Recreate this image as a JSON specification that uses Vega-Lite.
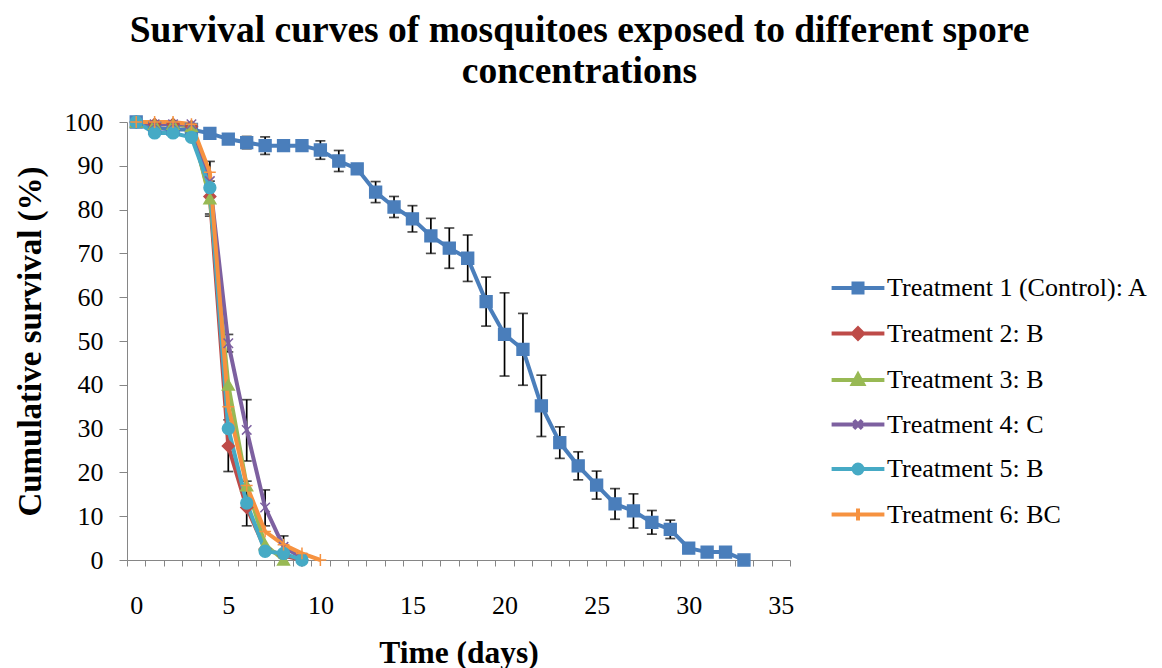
{
  "$schema": "https://vega.github.io/schema/vega-lite/v6.json",
  "width": 663,
  "height": 438,
  "autosize": {"type": "none"},
  "padding": {"left": 127, "top": 122, "right": 372, "bottom": 108},
  "background": "white",
  "config": {
    "view": {"stroke": null},
    "font": "Liberation Serif"
  },
  "title": {
    "text": ["Survival curves of mosquitoes exposed to different spore", "concentrations"],
    "font": "Liberation Serif",
    "fontSize": 37.5,
    "fontWeight": "bold",
    "color": "black",
    "anchor": "middle",
    "dx": 121,
    "offset": 19,
    "lineHeight": 41
  },
  "datasets": {
    "surv": [
      {"series": "Treatment 1 (Control): A", "day": 0, "value": 100},
      {"series": "Treatment 1 (Control): A", "day": 1, "value": 98.6},
      {"series": "Treatment 1 (Control): A", "day": 2, "value": 98.3},
      {"series": "Treatment 1 (Control): A", "day": 3, "value": 98.3},
      {"series": "Treatment 1 (Control): A", "day": 4, "value": 97.4},
      {"series": "Treatment 1 (Control): A", "day": 5, "value": 96.1},
      {"series": "Treatment 1 (Control): A", "day": 6, "value": 95.3},
      {"series": "Treatment 1 (Control): A", "day": 7, "value": 94.6},
      {"series": "Treatment 1 (Control): A", "day": 8, "value": 94.6},
      {"series": "Treatment 1 (Control): A", "day": 9, "value": 94.6},
      {"series": "Treatment 1 (Control): A", "day": 10, "value": 93.6},
      {"series": "Treatment 1 (Control): A", "day": 11, "value": 91.1},
      {"series": "Treatment 1 (Control): A", "day": 12, "value": 89.3},
      {"series": "Treatment 1 (Control): A", "day": 13, "value": 84.0},
      {"series": "Treatment 1 (Control): A", "day": 14, "value": 80.6},
      {"series": "Treatment 1 (Control): A", "day": 15, "value": 77.9},
      {"series": "Treatment 1 (Control): A", "day": 16, "value": 74.0},
      {"series": "Treatment 1 (Control): A", "day": 17, "value": 71.2},
      {"series": "Treatment 1 (Control): A", "day": 18, "value": 68.9},
      {"series": "Treatment 1 (Control): A", "day": 19, "value": 59.0},
      {"series": "Treatment 1 (Control): A", "day": 20, "value": 51.5},
      {"series": "Treatment 1 (Control): A", "day": 21, "value": 48.1},
      {"series": "Treatment 1 (Control): A", "day": 22, "value": 35.2},
      {"series": "Treatment 1 (Control): A", "day": 23, "value": 26.8},
      {"series": "Treatment 1 (Control): A", "day": 24, "value": 21.5},
      {"series": "Treatment 1 (Control): A", "day": 25, "value": 17.1},
      {"series": "Treatment 1 (Control): A", "day": 26, "value": 12.8},
      {"series": "Treatment 1 (Control): A", "day": 27, "value": 11.2},
      {"series": "Treatment 1 (Control): A", "day": 28, "value": 8.6},
      {"series": "Treatment 1 (Control): A", "day": 29, "value": 7.0},
      {"series": "Treatment 1 (Control): A", "day": 30, "value": 2.7},
      {"series": "Treatment 1 (Control): A", "day": 31, "value": 1.8},
      {"series": "Treatment 1 (Control): A", "day": 32, "value": 1.8},
      {"series": "Treatment 1 (Control): A", "day": 33, "value": 0},
      {"series": "Treatment 2: B", "day": 0, "value": 100},
      {"series": "Treatment 2: B", "day": 1, "value": 99.5},
      {"series": "Treatment 2: B", "day": 2, "value": 99.5},
      {"series": "Treatment 2: B", "day": 3, "value": 99},
      {"series": "Treatment 2: B", "day": 4, "value": 83},
      {"series": "Treatment 2: B", "day": 5, "value": 26},
      {"series": "Treatment 2: B", "day": 6, "value": 12},
      {"series": "Treatment 2: B", "day": 7, "value": 2.5},
      {"series": "Treatment 2: B", "day": 8, "value": 1},
      {"series": "Treatment 2: B", "day": 9, "value": 0},
      {"series": "Treatment 3: B", "day": 0, "value": 100},
      {"series": "Treatment 3: B", "day": 1, "value": 99.5},
      {"series": "Treatment 3: B", "day": 2, "value": 99.5},
      {"series": "Treatment 3: B", "day": 3, "value": 99},
      {"series": "Treatment 3: B", "day": 4, "value": 82.5},
      {"series": "Treatment 3: B", "day": 5, "value": 40},
      {"series": "Treatment 3: B", "day": 6, "value": 17},
      {"series": "Treatment 3: B", "day": 7, "value": 3.5},
      {"series": "Treatment 3: B", "day": 8, "value": 0},
      {"series": "Treatment 4: C", "day": 0, "value": 100},
      {"series": "Treatment 4: C", "day": 1, "value": 99.5},
      {"series": "Treatment 4: C", "day": 2, "value": 99.5},
      {"series": "Treatment 4: C", "day": 3, "value": 99.5},
      {"series": "Treatment 4: C", "day": 4, "value": 86.5},
      {"series": "Treatment 4: C", "day": 5, "value": 49.5},
      {"series": "Treatment 4: C", "day": 6, "value": 29.7},
      {"series": "Treatment 4: C", "day": 7, "value": 12},
      {"series": "Treatment 4: C", "day": 8, "value": 3},
      {"series": "Treatment 4: C", "day": 9, "value": 0.5},
      {"series": "Treatment 5: B", "day": 0, "value": 100},
      {"series": "Treatment 5: B", "day": 1, "value": 97.5},
      {"series": "Treatment 5: B", "day": 2, "value": 97.5},
      {"series": "Treatment 5: B", "day": 3, "value": 96.5},
      {"series": "Treatment 5: B", "day": 4, "value": 85},
      {"series": "Treatment 5: B", "day": 5, "value": 30},
      {"series": "Treatment 5: B", "day": 6, "value": 13},
      {"series": "Treatment 5: B", "day": 7, "value": 2},
      {"series": "Treatment 5: B", "day": 8, "value": 1.5},
      {"series": "Treatment 5: B", "day": 9, "value": 0},
      {"series": "Treatment 6: BC", "day": 0, "value": 100},
      {"series": "Treatment 6: BC", "day": 1, "value": 100},
      {"series": "Treatment 6: BC", "day": 2, "value": 100},
      {"series": "Treatment 6: BC", "day": 3, "value": 99.5},
      {"series": "Treatment 6: BC", "day": 4, "value": 88.5},
      {"series": "Treatment 6: BC", "day": 5, "value": 35},
      {"series": "Treatment 6: BC", "day": 6, "value": 17},
      {"series": "Treatment 6: BC", "day": 7, "value": 6.5},
      {"series": "Treatment 6: BC", "day": 8, "value": 3.5},
      {"series": "Treatment 6: BC", "day": 9, "value": 1.5},
      {"series": "Treatment 6: BC", "day": 10, "value": 0}
    ],
    "err": [
      {"series": "Treatment 1 (Control): A", "day": 4, "lo": 96.4, "hi": 98.4},
      {"series": "Treatment 1 (Control): A", "day": 5, "lo": 95.0, "hi": 97.2},
      {"series": "Treatment 1 (Control): A", "day": 6, "lo": 93.9, "hi": 96.7},
      {"series": "Treatment 1 (Control): A", "day": 7, "lo": 92.6, "hi": 96.6},
      {"series": "Treatment 1 (Control): A", "day": 8, "lo": 93.4, "hi": 95.8},
      {"series": "Treatment 1 (Control): A", "day": 9, "lo": 93.4, "hi": 95.8},
      {"series": "Treatment 1 (Control): A", "day": 10, "lo": 91.5, "hi": 95.7},
      {"series": "Treatment 1 (Control): A", "day": 11, "lo": 88.7, "hi": 93.5},
      {"series": "Treatment 1 (Control): A", "day": 13, "lo": 81.6, "hi": 86.4},
      {"series": "Treatment 1 (Control): A", "day": 14, "lo": 78.2, "hi": 83.0},
      {"series": "Treatment 1 (Control): A", "day": 15, "lo": 74.9, "hi": 80.9},
      {"series": "Treatment 1 (Control): A", "day": 16, "lo": 70.0, "hi": 78.0},
      {"series": "Treatment 1 (Control): A", "day": 17, "lo": 66.6, "hi": 75.8},
      {"series": "Treatment 1 (Control): A", "day": 18, "lo": 63.6, "hi": 74.2},
      {"series": "Treatment 1 (Control): A", "day": 19, "lo": 53.4, "hi": 64.6},
      {"series": "Treatment 1 (Control): A", "day": 20, "lo": 42.0, "hi": 61.0},
      {"series": "Treatment 1 (Control): A", "day": 21, "lo": 39.9, "hi": 56.3},
      {"series": "Treatment 1 (Control): A", "day": 22, "lo": 28.2, "hi": 42.2},
      {"series": "Treatment 1 (Control): A", "day": 23, "lo": 23.2, "hi": 30.4},
      {"series": "Treatment 1 (Control): A", "day": 24, "lo": 18.3, "hi": 24.7},
      {"series": "Treatment 1 (Control): A", "day": 25, "lo": 13.9, "hi": 20.3},
      {"series": "Treatment 1 (Control): A", "day": 26, "lo": 9.3, "hi": 16.3},
      {"series": "Treatment 1 (Control): A", "day": 27, "lo": 7.3, "hi": 15.1},
      {"series": "Treatment 1 (Control): A", "day": 28, "lo": 5.9, "hi": 11.3},
      {"series": "Treatment 1 (Control): A", "day": 29, "lo": 4.9, "hi": 9.1},
      {"series": "Treatment 2: B", "day": 5, "lo": 20.2, "hi": 32.0},
      {"series": "Treatment 3: B", "day": 4, "lo": 78.5, "hi": 86.5},
      {"series": "Treatment 4: C", "day": 5, "lo": 47.5, "hi": 51.5},
      {"series": "Treatment 4: C", "day": 6, "lo": 22.6, "hi": 36.6},
      {"series": "Treatment 4: C", "day": 7, "lo": 7.8, "hi": 16.0},
      {"series": "Treatment 4: C", "day": 8, "lo": 0.5, "hi": 5.5},
      {"series": "Treatment 5: B", "day": 4, "lo": 79.0, "hi": 91.0},
      {"series": "Treatment 5: B", "day": 6, "lo": 7.8, "hi": 18.0}
    ]
  },
  "encoding": {
    "x": {
      "field": "day", "type": "ordinal", "title": "Time (days)",
      "scale": {
        "type": "band",
        "domain": [0, 1, 2, 3, 4, 5, 6, 7, 8, 9, 10, 11, 12, 13, 14, 15, 16, 17, 18, 19, 20, 21, 22, 23, 24, 25, 26, 27, 28, 29, 30, 31, 32, 33, 34, 35],
        "paddingInner": 0,
        "paddingOuter": 0
      },
      "axis": {
        "tickBand": "extent",
        "labelExpr": "(datum.value == 0 || datum.value == 5 || datum.value == 10 || datum.value == 15 || datum.value == 20 || datum.value == 25 || datum.value == 30 || datum.value == 35) ? datum.label : ''",
        "labelAngle": 0,
        "grid": false,
        "domainColor": "#868686",
        "tickColor": "#868686",
        "tickSize": 6,
        "labelFont": "Liberation Serif",
        "labelFontSize": 26,
        "labelColor": "black",
        "labelPadding": 26,
        "labelOverlap": false,
        "labelBound": false,
        "labelFlush": false,
        "titleFont": "Liberation Serif",
        "titleFontSize": 31.5,
        "titleFontWeight": "bold",
        "titleColor": "black",
        "titlePadding": 19
      }
    }
  },
  "layer": [
    {
      "data": {"name": "err"},
      "mark": {"type": "errorbar", "ticks": true, "color": "black", "thickness": 1.7, "size": 10},
      "encoding": {
        "y": {
          "field": "lo", "type": "quantitative", "title": "Cumulative survival (%)",
          "scale": {"domain": [0, 100], "nice": false}
        },
        "y2": {"field": "hi"}
      }
    },
    {
      "data": {"name": "surv"},
      "mark": {"type": "line", "strokeWidth": 4},
      "encoding": {
        "y": {
          "field": "value", "type": "quantitative", "title": "Cumulative survival (%)",
          "scale": {"domain": [0, 100], "nice": false},
          "axis": {
            "values": [0, 10, 20, 30, 40, 50, 60, 70, 80, 90, 100],
            "grid": false,
            "domainColor": "#868686",
            "tickColor": "#868686",
            "tickSize": 8,
            "labelFont": "Liberation Serif",
            "labelFontSize": 26,
            "labelColor": "black",
            "labelPadding": 16,
            "labelBound": false,
            "labelFlush": false,
            "labelOverlap": false,
            "titleFont": "Liberation Serif",
            "titleFontSize": 33,
            "titleFontWeight": "bold",
            "titleColor": "black",
            "titlePadding": 17
          }
        },
        "color": {
          "field": "series", "type": "nominal",
          "scale": {
            "domain": ["Treatment 1 (Control): A", "Treatment 2: B", "Treatment 3: B", "Treatment 4: C", "Treatment 5: B", "Treatment 6: BC"],
            "range": ["#4A7EBB", "#BE4B48", "#98B954", "#7D60A0", "#46AAC5", "#F69240"]
          },
          "legend": {
            "orient": "none",
            "legendX": 718,
            "legendY": 153,
            "title": null,
            "labelFont": "Liberation Serif",
            "labelFontSize": 26,
            "labelColor": "black",
            "labelLimit": 400,
            "symbolSize": 144,
            "symbolStrokeWidth": 4,
            "labelOffset": 16,
            "rowPadding": 18.5,
            "encode": {
              "symbols": {
                "update": {
                  "shape": {"signal": "datum.value === 'Treatment 1 (Control): A' ? 'M-4.4,0L4.4,0M-0.75,-0.75L0.75,-0.75L0.75,0.75L-0.75,0.75Z' : datum.value === 'Treatment 2: B' ? 'M-4.4,0L4.4,0M0,-0.85L0.85,0L0,0.85L-0.85,0Z' : datum.value === 'Treatment 3: B' ? 'M-4.4,0L4.4,0M0,-0.9L0.85,0.65L-0.85,0.65Z' : datum.value === 'Treatment 4: C' ? 'M-4.4,0L4.4,0M-0.7,-0.7L0.7,0.7M-0.7,0.7L0.7,-0.7' : datum.value === 'Treatment 5: B' ? 'M-4.4,0L4.4,0M0.75,0A0.75,0.75,0,1,1,-0.75,0A0.75,0.75,0,1,1,0.75,0Z' : 'M-4.4,0L4.4,0M0,-1L0,1'"},
                  "fill": {"signal": "datum.value === 'Treatment 1 (Control): A' ? '#4A7EBB' : datum.value === 'Treatment 2: B' ? '#BE4B48' : datum.value === 'Treatment 3: B' ? '#98B954' : datum.value === 'Treatment 4: C' ? '#7D60A0' : datum.value === 'Treatment 5: B' ? '#46AAC5' : '#F69240'"}
                }
              }
            }
          }
        }
      }
    },
    {
      "data": {"name": "surv"},
      "mark": {"type": "point", "filled": true, "size": 140, "strokeWidth": 1.5, "opacity": 1},
      "encoding": {
        "y": {"field": "value", "type": "quantitative", "title": "Cumulative survival (%)"},
        "fill": {
          "field": "series", "type": "nominal", "legend": null,
          "scale": {
            "domain": ["Treatment 6: BC", "Treatment 5: B", "Treatment 4: C", "Treatment 3: B", "Treatment 2: B", "Treatment 1 (Control): A"],
            "range": ["#F69240", "#46AAC5", "#7D60A0", "#98B954", "#BE4B48", "#4A7EBB"]
          }
        },
        "stroke": {
          "field": "series", "type": "nominal", "legend": null,
          "scale": {
            "domain": ["Treatment 6: BC", "Treatment 5: B", "Treatment 4: C", "Treatment 3: B", "Treatment 2: B", "Treatment 1 (Control): A"],
            "range": ["#F69240", "#46AAC5", "#7D60A0", "#98B954", "#BE4B48", "#4A7EBB"]
          }
        },
        "shape": {
          "field": "series", "type": "nominal", "legend": null,
          "scale": {
            "domain": ["Treatment 6: BC", "Treatment 5: B", "Treatment 4: C", "Treatment 3: B", "Treatment 2: B", "Treatment 1 (Control): A"],
            "range": ["M0,-1L0,1M-1,0L1,0", "circle", "M-0.8,-0.8L0.8,0.8M-0.8,0.8L0.8,-0.8", "triangle-up", "diamond", "square"]
          }
        }
      }
    }
  ]
}
